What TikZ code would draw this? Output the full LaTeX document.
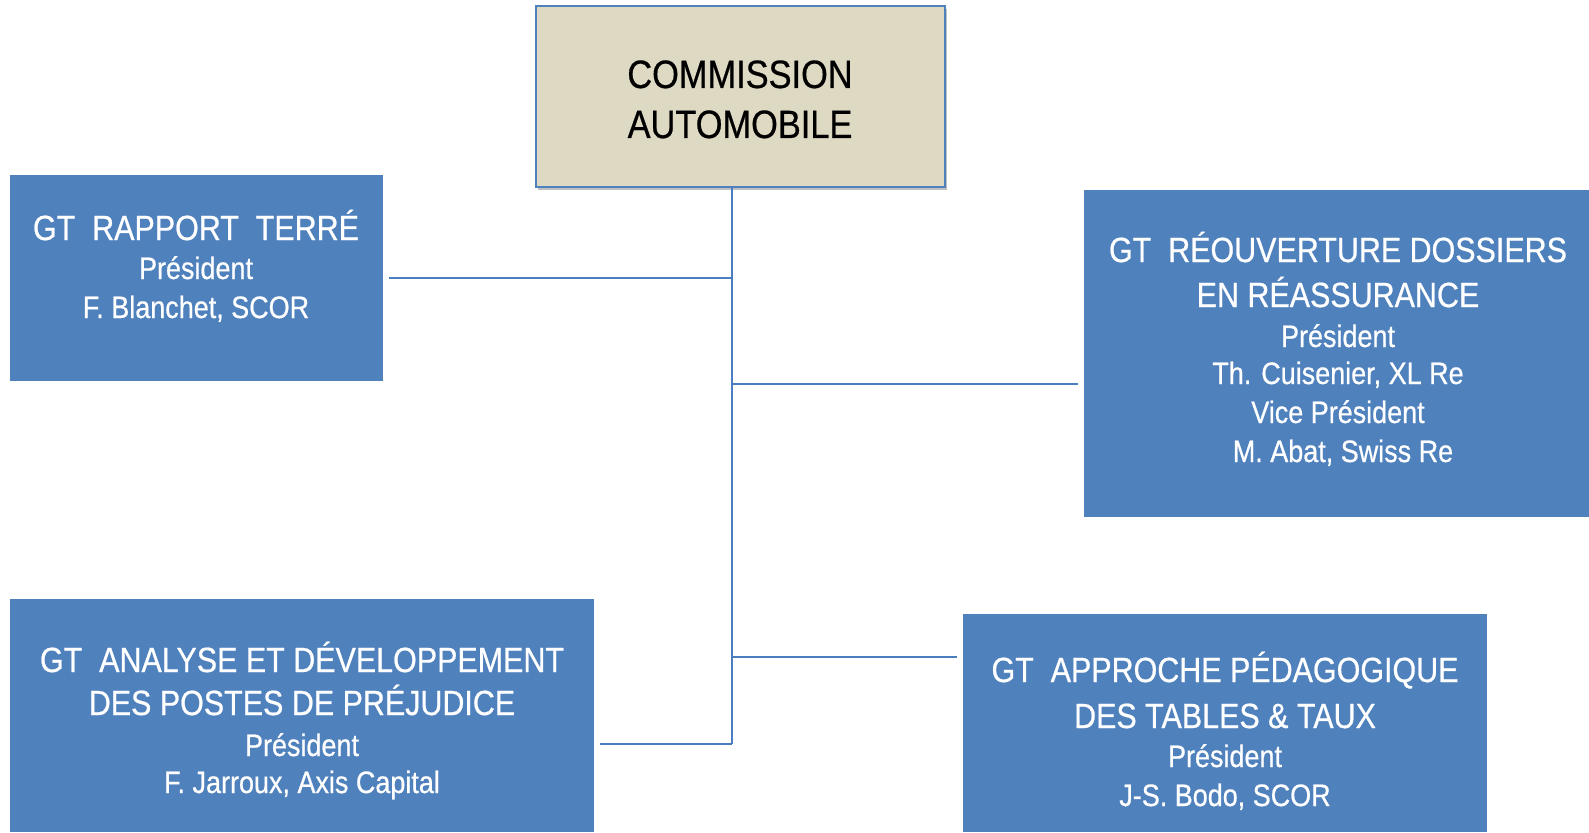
\documentclass[tikz,border=0pt]{standalone}
\usepackage{fontspec}
\setmainfont{Liberation Sans}[FakeStretch=0.87,FakeBold=0.6]
\usetikzlibrary{shadows}
\definecolor{boxblue}{RGB}{79,129,189}
\definecolor{boxtan}{RGB}{221,217,195}
\definecolor{linecol}{RGB}{74,126,193}
\begin{document}
\begin{tikzpicture}[x=1pt,y=-1pt,
  gtbox/.style={fill=boxblue, draw=none, anchor=north west, inner sep=0pt, outer sep=0pt},
  topbox/.style={fill=boxtan, draw=boxblue, line width=1.5pt, anchor=north west, inner sep=0pt, outer sep=0pt,
    drop shadow={shadow xshift=2pt, shadow yshift=-3pt, opacity=0.35, fill=black!70}},
  ttl/.style={text=white, anchor=base, inner sep=0pt, font=\fontsize{35}{40}\selectfont},
  nm/.style={text=white, anchor=base, inner sep=0pt, font=\fontsize{31}{36}\selectfont},
  toptxt/.style={text=black, anchor=base, inner sep=0pt, font=\fontsize{39.5}{45}\selectfont},
  conn/.style={draw=linecol, line width=2.2pt}
]
\useasboundingbox (0,0) rectangle (1589,832);
\fill[white] (0,0) rectangle (1589,832);

% boxes
\node[topbox, minimum width=409pt, minimum height=181pt] (top) at (536,6) {};
\node[gtbox, minimum width=373pt, minimum height=206pt] (b1) at (10,175) {};
\node[gtbox, minimum width=505pt, minimum height=327pt] (b2) at (1084,190) {};
\node[gtbox, minimum width=584pt, minimum height=233pt] (b3) at (10,599) {};
\node[gtbox, minimum width=524pt, minimum height=218pt] (b4) at (963,614) {};

% spine coordinates
\coordinate (s0) at (732,187);
\coordinate (j1) at (732,278);
\coordinate (j2) at (732,384);
\coordinate (j4) at (732,657);
\coordinate (j3) at (732,744);

% connectors
\draw[conn] (s0) -- (j3);
\draw[conn, shorten <=6pt] (b1.east |- j1) -- (j1);
\draw[conn, shorten >=6pt] (j2) -- (j2 -| b2.west);
\draw[conn, shorten <=6pt] (b3.east |- j3) -- (j3);
\draw[conn, shorten >=6pt] (j4) -- (j4 -| b4.west);

% top text
\node[toptxt] (t1) at (740,88) {COMMISSION};
\node[toptxt] (t2) at (740,138) {AUTOMOBILE};

% box 1
\node[ttl] (b1a) at (196,240) {GT\ \ RAPPORT\ \ TERRÉ};
\node[nm] (b1b) at (196,279) {Président};
\node[nm] (b1c) at (196,318) {F. Blanchet, SCOR};

% box 2
\node[ttl] (b2a) at (1338,262) {GT\ \ RÉOUVERTURE DOSSIERS};
\node[ttl] (b2b) at (1338,307) {EN RÉASSURANCE};
\node[nm] (b2c) at (1338,347) {Président};
\node[nm] (b2d) at (1338,384) {Th. Cuisenier, XL Re};
\node[nm] (b2e) at (1338,423) {Vice Président};
\node[nm] (b2f) at (1343,462) {M. Abat, Swiss Re};

% box 3
\node[ttl] (b3a) at (302,672) {GT\ \ ANALYSE ET DÉVELOPPEMENT};
\node[ttl] (b3b) at (302,715) {DES POSTES DE PRÉJUDICE};
\node[nm] (b3c) at (302,756) {Président};
\node[nm] (b3d) at (302,793) {F. Jarroux, Axis Capital};

% box 4
\node[ttl] (b4a) at (1225,682) {GT\ \ APPROCHE PÉDAGOGIQUE};
\node[ttl] (b4b) at (1225,728) {DES TABLES \& TAUX};
\node[nm] (b4c) at (1225,767) {Président};
\node[nm] (b4d) at (1225,806) {J-S. Bodo, SCOR};
\end{tikzpicture}
\end{document}
